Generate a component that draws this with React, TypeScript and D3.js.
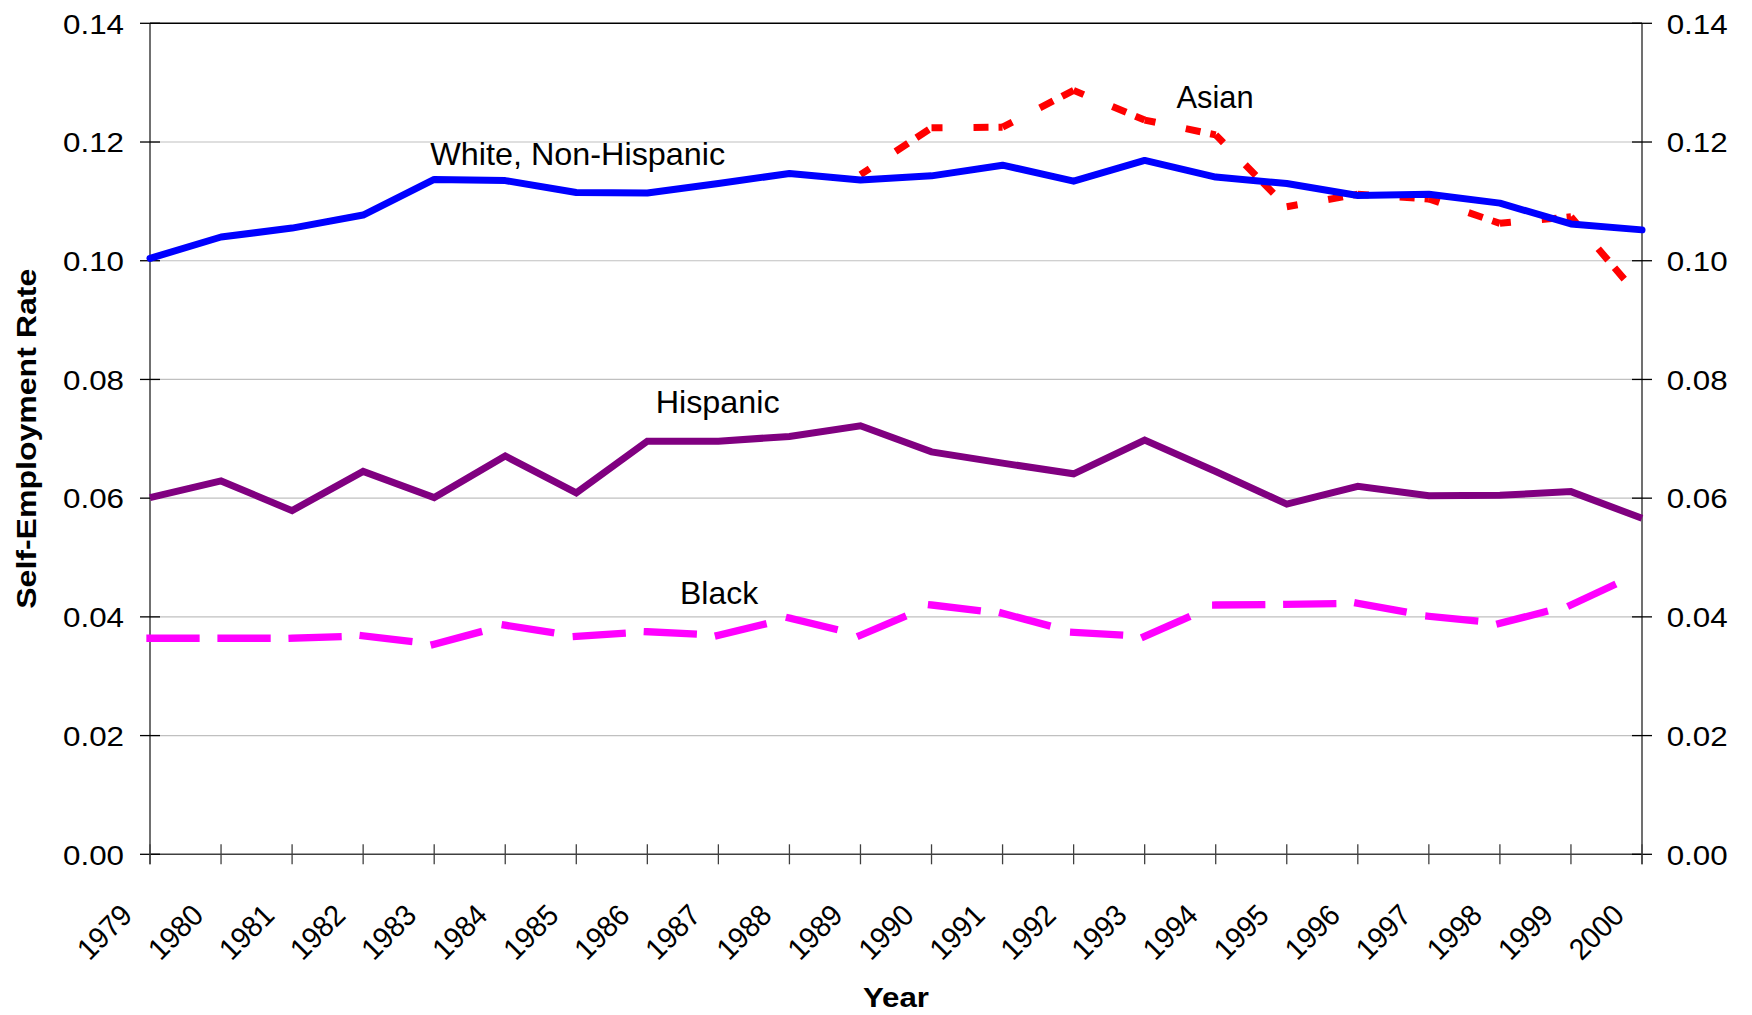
import React from 'react';
import * as d3 from 'd3';

const years = [1979, 1980, 1981, 1982, 1983, 1984, 1985, 1986, 1987, 1988, 1989, 1990, 1991, 1992, 1993, 1994, 1995, 1996, 1997, 1998, 1999, 2000];
const whiteNonHispanic = [0.1004, 0.1040, 0.1055, 0.1077, 0.1137, 0.1135, 0.1115, 0.1114, 0.1130, 0.1147, 0.1136, 0.1143, 0.1161, 0.1134, 0.1169, 0.1141, 0.1130, 0.1110, 0.1112, 0.1097, 0.1062, 0.1052];
const hispanic = [0.0601, 0.0629, 0.0579, 0.0645, 0.0601, 0.0671, 0.0609, 0.0696, 0.0696, 0.0704, 0.0722, 0.0678, 0.0659, 0.0641, 0.0698, 0.0645, 0.0590, 0.0620, 0.0604, 0.0605, 0.0611, 0.0566];
const black = [0.0364, 0.0364, 0.0364, 0.0368, 0.0354, 0.0386, 0.0367, 0.0375, 0.0369, 0.0398, 0.0369, 0.0420, 0.0406, 0.0374, 0.0367, 0.0420, 0.0421, 0.0423, 0.0401, 0.0389, 0.0420, 0.0476];
const asianYears = [1989, 1990, 1991, 1992, 1993, 1994, 1995, 1996, 1997, 1998, 1999, 2000];
const asian = [0.1145, 0.1224, 0.1225, 0.1287, 0.1237, 0.1212, 0.1091, 0.1112, 0.1104, 0.1063, 0.1074, 0.0934];
const yTicks = [0, 0.02, 0.04, 0.06, 0.08, 0.10, 0.12, 0.14];
const seriesLabels = [
  { text: 'White, Non-Hispanic', year: 1985.02, value: 0.1162, len: 295 },
  { text: 'Hispanic', year: 1986.99, value: 0.0743, len: 124 },
  { text: 'Black', year: 1987.01, value: 0.0422, len: 78 },
  { text: 'Asian', year: 1993.99, value: 0.1257, len: 77 },
];

const W = 1752;
const H = 1015;
const L = 150;
const R = 1642;
const T = 23.3;
const B = 854.3;
const FONT = "'Liberation Sans', Arial, Helvetica, sans-serif";

const x = d3.scaleLinear().domain([1979, 2000]).range([L, R]);
const y = d3.scaleLinear().domain([0, 0.14]).range([B, T]);
const line = d3.line<[number, number]>().x(d => x(d[0])).y(d => y(d[1]));

function segments(xs: number[], vs: number[]) {
  const out: [number, number][][] = [];
  for (let i = 0; i < xs.length - 1; i++) {
    out.push([[xs[i], vs[i]], [xs[i + 1], vs[i + 1]]]);
  }
  return out;
}

export default function App() {
  const whitePts = years.map((yr, i) => [yr, whiteNonHispanic[i]] as [number, number]);
  const hispPts = years.map((yr, i) => [yr, hispanic[i]] as [number, number]);
  const fmt = d3.format('.2f');
  return (
    <div style={{ position: 'absolute', left: 0, top: 0 }}>
      <svg width={W} height={H} viewBox={`0 0 ${W} ${H}`} style={{ display: 'block', background: '#fff' }} fontFamily={FONT}>
        {yTicks.filter(t => t > 0 && t < 0.14).map(t => (
          <line key={'g' + t} x1={L} x2={R} y1={y(t)} y2={y(t)} stroke="#c0c0c0" strokeWidth={1.2} />
        ))}
        <line x1={L} x2={R} y1={T} y2={T} stroke="#000" strokeWidth={1.5} />
        <line x1={L} x2={L} y1={T} y2={B + 10} stroke="#404040" strokeWidth={1.5} />
        <line x1={R} x2={R} y1={T} y2={B + 10} stroke="#404040" strokeWidth={1.5} />
        <line x1={L} x2={R} y1={B} y2={B} stroke="#404040" strokeWidth={1.5} />
        {yTicks.map(t => (
          <g key={'t' + t}>
            <line x1={L - 10} x2={L + 10} y1={y(t)} y2={y(t)} stroke="#000" strokeWidth={1.3} />
            <line x1={R - 10} x2={R + 10} y1={y(t)} y2={y(t)} stroke="#000" strokeWidth={1.3} />
            <text x={124} y={y(t) + 10.3} textAnchor="end" fontSize={28.5} textLength={61} lengthAdjust="spacingAndGlyphs" fill="#000">{fmt(t)}</text>
            <text x={1666.7} y={y(t) + 10.3} textAnchor="start" fontSize={28.5} textLength={61} lengthAdjust="spacingAndGlyphs" fill="#000">{fmt(t)}</text>
          </g>
        ))}
        {years.map(yr => (
          <g key={'x' + yr}>
            <line x1={x(yr)} x2={x(yr)} y1={B - 10} y2={B + 10} stroke="#404040" strokeWidth={1.3} />
            <text transform={`translate(${x(yr) - 16},917) rotate(-45)`} textAnchor="end" fontSize={30} textLength={63} lengthAdjust="spacingAndGlyphs" fill="#000">{yr}</text>
          </g>
        ))}
        {segments(asianYears, asian).map((s, i) => (
          <path key={'a' + i} d={line(s) || ''} fill="none" stroke="#ff0000" strokeWidth={7} strokeDasharray="15,31,15,10" strokeDashoffset={4} />
        ))}
        <path d={line(whitePts) || ''} fill="none" stroke="#0000ff" strokeWidth={7} strokeLinejoin="round" strokeLinecap="round" />
        <path d={line(hispPts) || ''} fill="none" stroke="#800080" strokeWidth={7} strokeLinejoin="miter" />
        {segments(years, black).map((s, i) => (
          <path key={'b' + i} d={line(s) || ''} fill="none" stroke="#ff00ff" strokeWidth={7.3} strokeLinecap="square" strokeDasharray="46,1000" />
        ))}
        {seriesLabels.map(lb => (
          <text key={lb.text} x={x(lb.year)} y={y(lb.value)} textAnchor="middle" fontSize={31.5} textLength={lb.len} lengthAdjust="spacingAndGlyphs" fill="#000">{lb.text}</text>
        ))}
        <text x={(L + R) / 2} y={1006.7} textAnchor="middle" fontSize={28.5} fontWeight="bold" textLength={66} lengthAdjust="spacingAndGlyphs" fill="#000">Year</text>
        <text transform={`translate(36,${(T + B) / 2}) rotate(-90)`} textAnchor="middle" fontSize={27} fontWeight="bold" textLength={340} lengthAdjust="spacingAndGlyphs" fill="#000">Self-Employment Rate</text>
      </svg>
    </div>
  );
}
